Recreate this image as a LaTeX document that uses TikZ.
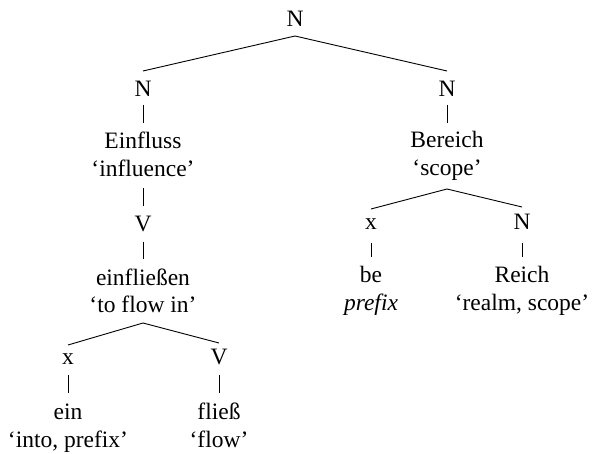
\documentclass[tikz,border=0pt]{standalone}
\usepackage{fontspec}
\setmainfont{Liberation Serif}
\usetikzlibrary{calc}
\begin{document}
\begin{tikzpicture}[x=1pt,y=-1pt,
  tr/.style={font=\fontsize{23.5}{28}\selectfont, inner sep=0pt, anchor=base},
  edge/.style={line width=0.9pt}]
\useasboundingbox (0,0) rectangle (592,454);
% labels, placed by baseline
\node[tr] (root) at (295,27) {N};
\node[tr] (nl) at (143,97) {N};
\node[tr] (nr) at (447,97) {N};
\node[tr] (einfluss) at (143,149) {Einfluss};
\node[tr] (influence) at (143,177) {‘influence’};
\node[tr] (vl) at (143,232) {V};
\node[tr] (einfliessen) at (143,286) {einfließen};
\node[tr] (flowin) at (143,313) {‘to flow in’};
\node[tr] (xl) at (68,365) {x};
\node[tr] (vv) at (219,365) {V};
\node[tr] (ein) at (68,420) {ein};
\node[tr] (into) at (68,447) {‘into, prefix’};
\node[tr] (fliess) at (219,420) {fließ};
\node[tr] (flow) at (219,447) {‘flow’};
\node[tr] (bereich) at (447,148) {Bereich};
\node[tr] (scope) at (447,176) {‘scope’};
\node[tr] (xr) at (371,230) {x};
\node[tr] (nn) at (522,230) {N};
\node[tr] (be) at (371,283) {be};
\node[tr] (prefix) at (371,311) {\textit{prefix}};
\node[tr] (reich) at (522,283) {Reich};
\node[tr] (realm) at (522,311) {‘realm, scope’};
% branches: from below the parent's last line to above the child's first line
\draw[edge] ($(root.base)+(0,9)$) -- ($(nl.base)+(0,-26)$);
\draw[edge] ($(root.base)+(0,9)$) -- ($(nr.base)+(0,-26)$);
\draw[edge] ($(nl.base)+(0,8)$) -- ($(einfluss.base)+(0,-26)$);
\draw[edge] ($(influence.base)+(0,11)$) -- ($(vl.base)+(0,-26)$);
\draw[edge] ($(vl.base)+(0,10)$) -- ($(einfliessen.base)+(0,-27)$);
\draw[edge] ($(flowin.base)+(0,10)$) -- ($(xl.base)+(0,-20)$);
\draw[edge] ($(flowin.base)+(0,10)$) -- ($(vv.base)+(0,-22)$);
\draw[edge] ($(xl.base)+(0,10)$) -- ($(ein.base)+(0,-27)$);
\draw[edge] ($(vv.base)+(0,10)$) -- ($(fliess.base)+(0,-27)$);
\draw[edge] ($(nr.base)+(0,8)$) -- ($(bereich.base)+(0,-25)$);
\draw[edge] ($(scope.base)+(0,13)$) -- ($(xr.base)+(0,-21)$);
\draw[edge] ($(scope.base)+(0,13)$) -- ($(nn.base)+(0,-23)$);
\draw[edge] ($(xr.base)+(0,13)$) -- ($(be.base)+(0,-26)$);
\draw[edge] ($(nn.base)+(0,13)$) -- ($(reich.base)+(0,-26)$);
\end{tikzpicture}
\end{document}
